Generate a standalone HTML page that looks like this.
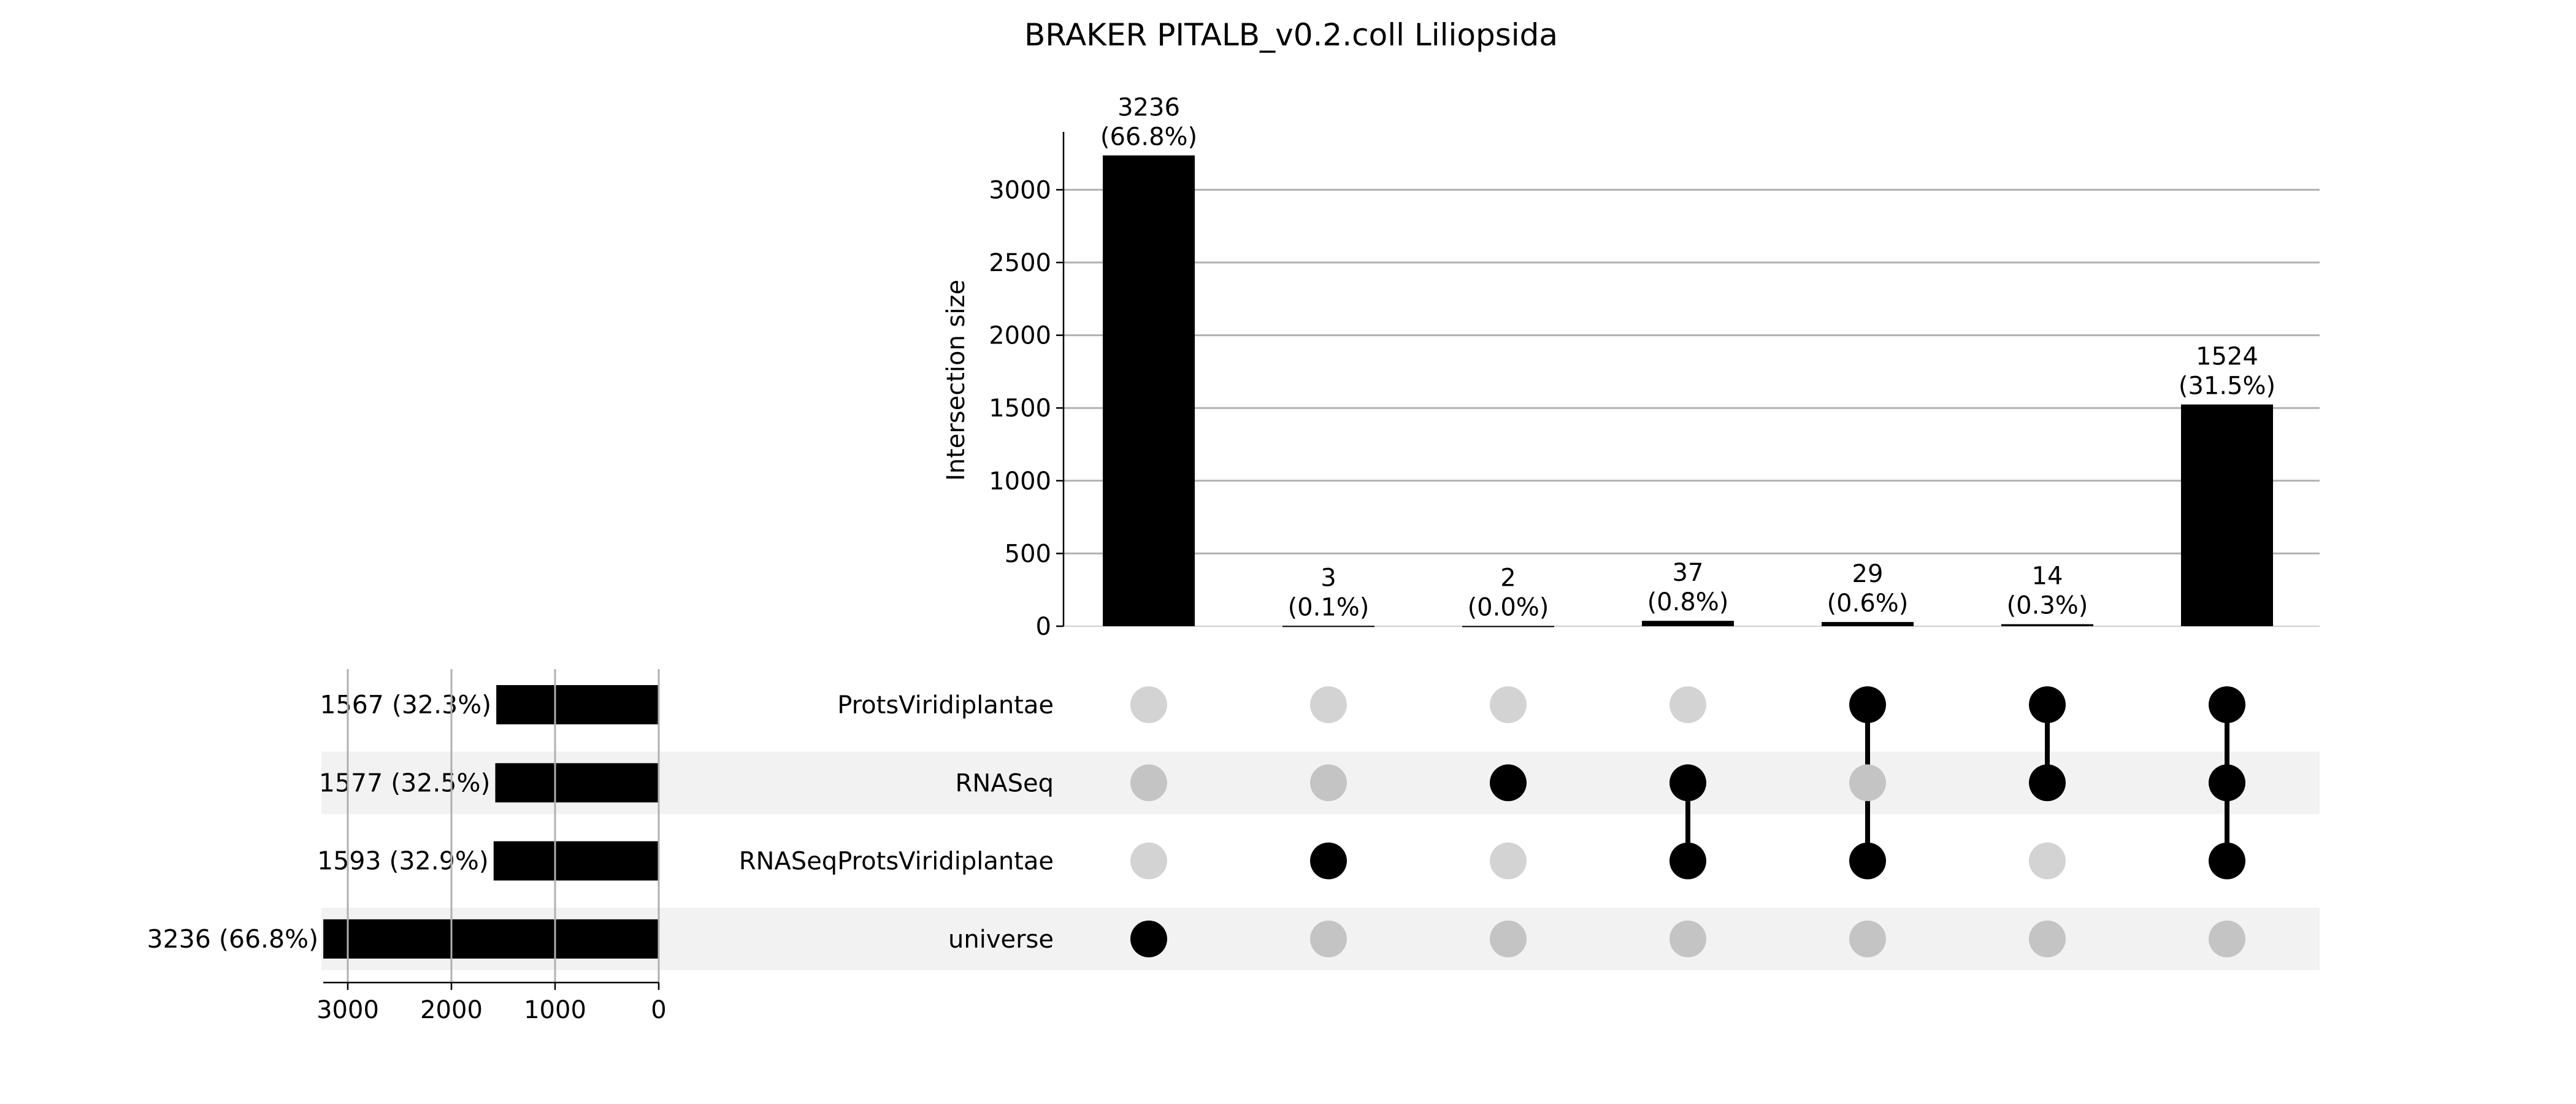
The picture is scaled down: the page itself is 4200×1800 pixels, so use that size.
<!DOCTYPE html>
<html><head><meta charset="utf-8"><style>
html,body{margin:0;padding:0;background:#fff;}
svg{display:block;font-family:"DejaVu Sans","Liberation Sans",sans-serif;}
</style></head><body>
<svg id="chart" width="4200" height="1800" viewBox="0 0 4200 1800" xmlns="http://www.w3.org/2000/svg">
<text x="2105" y="74" font-size="50" text-anchor="middle">BRAKER PITALB_v0.2.coll Liliopsida</text>
<g id="g"></g>
</svg>
<script>
const sets = ["ProtsViridiplantae","RNASeq","RNASeqProtsViridiplantae","universe"];
const setSizes = [1567,1577,1593,3236];
const setPcts = ["32.3%","32.5%","32.9%","66.8%"];
const interSizes = [3236,3,2,37,29,14,1524];
const interPcts = ["66.8%","0.1%","0.0%","0.8%","0.6%","0.3%","31.5%"];
const membership = [[3],[2],[1],[1,2],[0,2],[0,1],[0,1,2]];
const yTicks = [0,500,1000,1500,2000,2500,3000];
const xTicks = [0,1000,2000,3000];

const NS="http://www.w3.org/2000/svg";
const g=document.getElementById('g');
function mk(tag,attrs,parent){const e=document.createElementNS(NS,tag);for(const k in attrs)e.setAttribute(k,attrs[k]);(parent||g).appendChild(e);return e;}

const baseY=1021, pxPerUnit=0.2372;
const yScale=v=>baseY-v*pxPerUnit;
const colX=i=>1873+i*293;
const rowY=i=>1149+i*127.3;
const setX=v=>1074-v*0.169;
const plotL=1734, plotR=3782;

[1,3].forEach(i=>{
  const r=mk('rect',{x:524,y:rowY(i)-51,width:plotR-524,height:102,fill:'#f2f2f2'});
  
  
});

yTicks.forEach(t=>{
  if(t>0){const l=mk('line',{x1:plotL,x2:plotR,y1:yScale(t),y2:yScale(t),stroke:'#b0b0b0','stroke-width':3});
  
  }
  const tk=mk('line',{x1:plotL-12,x2:plotL,y1:yScale(t),y2:yScale(t),stroke:'#000','stroke-width':2.5});
  
  
  const tx=mk('text',{x:plotL-20,y:yScale(t)+14,'font-size':40,'text-anchor':'end'});
  tx.textContent=t;
  
  
});
const bl=mk('line',{x1:plotL,x2:plotR,y1:baseY,y2:baseY,stroke:'#d0d0d0','stroke-width':2});


const ax=mk('line',{x1:plotL,x2:plotL,y1:215,y2:baseY,stroke:'#000','stroke-width':2.5});


const yl=mk('text',{x:1572,y:620,'font-size':40,'text-anchor':'middle',transform:'rotate(-90 1572 620)'});
yl.textContent='Intersection size';



interSizes.forEach((v,i)=>{
  const top=yScale(v);
  const b=mk('rect',{x:colX(i)-75,y:top,width:150,height:Math.max(baseY-top,2),fill:'#000'});
  
  
  const t1=mk('text',{x:colX(i),y:top-65,'font-size':40,'text-anchor':'middle'});
  t1.textContent=v;
  
  
  const t2=mk('text',{x:colX(i),y:top-17,'font-size':40,'text-anchor':'middle'});
  t2.textContent='('+interPcts[i]+')';
  
  
});

membership.forEach((m,i)=>{
  if(m.length>1){
    const ys=m.map(rowY);
    const ln=mk('line',{x1:colX(i),x2:colX(i),y1:Math.min(...ys),y2:Math.max(...ys),stroke:'#000','stroke-width':8});
    
    
  }
  sets.forEach((s,j)=>{
    const on=m.includes(j);
    const c=mk('circle',{cx:colX(i),cy:rowY(j),r:30,fill:on?'#000':(j%2?'#c4c4c4':'#d3d3d3')});
    
    
  });
});

sets.forEach((s,j)=>{
  const t=mk('text',{x:1718,y:rowY(j)+14,'font-size':40,'text-anchor':'end'});
  t.textContent=s;
  
  
});

setSizes.forEach((v,j)=>{
  const b=mk('rect',{x:setX(v),y:rowY(j)-32,width:1074-setX(v),height:64,fill:'#000'});
  
  
  const t=mk('text',{x:setX(v)-8,y:rowY(j)+14,'font-size':41,'text-anchor':'end'});
  t.textContent=v+' ('+setPcts[j]+')';
  
  
});
xTicks.forEach(t=>{
  const l=mk('line',{x1:setX(t),x2:setX(t),y1:1091,y2:1602,stroke:'#b0b0b0','stroke-width':3});
  
  
});
const xa=mk('line',{x1:setX(3236),x2:1074,y1:1602,y2:1602,stroke:'#000','stroke-width':2.5});


xTicks.forEach(t=>{
  const tk=mk('line',{x1:setX(t),x2:setX(t),y1:1602,y2:1614,stroke:'#000','stroke-width':2.5});
  
  
  const tx=mk('text',{x:setX(t),y:1660,'font-size':40,'text-anchor':'middle'});
  tx.textContent=t;
  
  
});
</script>
</body></html>
